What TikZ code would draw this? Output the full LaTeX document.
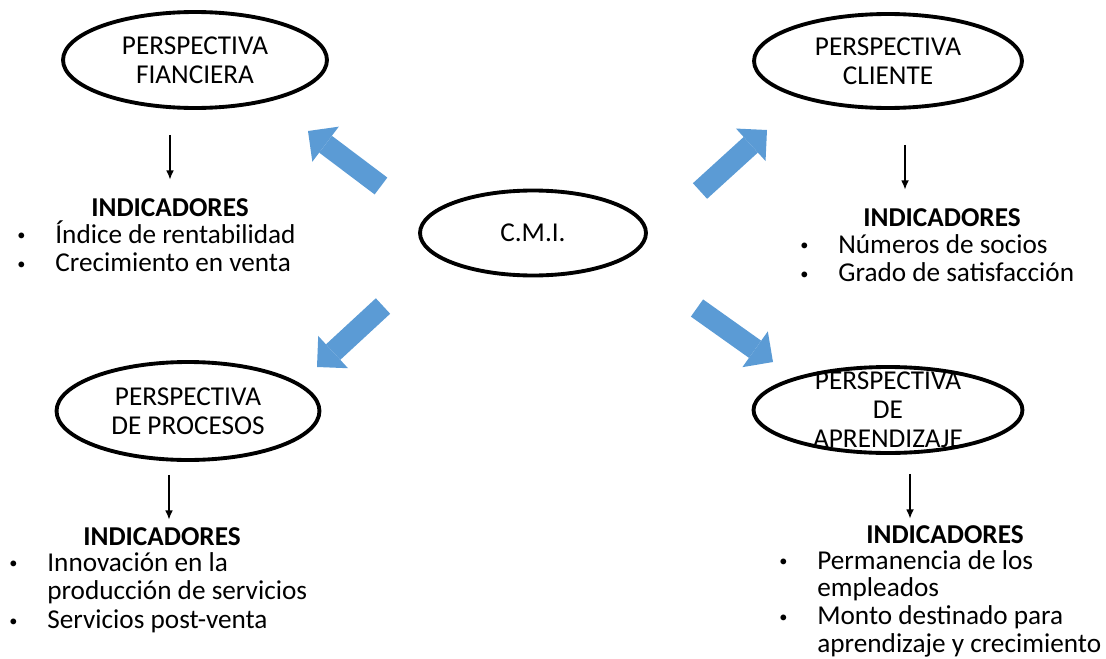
\documentclass[tikz,border=0pt]{standalone}
\usepackage{fontspec}
\setmainfont{Carlito}
\usetikzlibrary{shapes.geometric,arrows.meta,positioning,calc}
\definecolor{azulflecha}{HTML}{5B9BD5}
\newcommand{\vin}{\llap{\raisebox{1.2pt}{\scalebox{0.6}{\textbullet}}\hspace{17pt}}}

\begin{document}
\begin{tikzpicture}[x=0.02cm, y=-0.02cm, every node/.style={font=\fontsize{15.5}{16.5}\selectfont},
  persp/.style={ellipse, draw, line width=2.2pt, inner sep=0pt, align=center},
  ind/.style={font=\fontsize{15.5}{16.5}\selectfont\bfseries, inner sep=1pt},
  lista/.style={anchor=base west, inner sep=0pt},
  flecha/.style={-{Latex[length=5.5pt,width=4.5pt]}, line width=1.1pt},
  flechaazul/.style={azulflecha, line width=12pt, -{Triangle[width=25pt,length=12.5pt,line width=0pt]}}]
\useasboundingbox (0,0) rectangle (1106,659);

\node[persp, minimum width=5.28cm, minimum height=1.92cm] (fin) at (195,60) {PERSPECTIVA\\FIANCIERA};
\node[persp, minimum width=5.36cm, minimum height=1.88cm] (cli) at (888,61) {PERSPECTIVA\\CLIENTE};
\node[persp, minimum width=4.52cm, minimum height=1.7cm] (cmi) at (533,233) {C.M.I.};
\node[persp, minimum width=5.26cm, minimum height=1.96cm] (pro) at (188,411) {PERSPECTIVA\\DE PROCESOS};
\node[persp, minimum width=5.38cm, minimum height=1.72cm] (apr) at (888,410) {};
\node[align=center] (apr-t) at (apr) {PERSPECTIVA\\DE\\APRENDIZAJE};

% flechas azules desde el C.M.I.
\coordinate (nw1) at (381,186); \coordinate (nw2) at (308,131);
\coordinate (ne1) at (700,191); \coordinate (ne2) at (767,130);
\coordinate (sw1) at (383,306); \coordinate (sw2) at (317,367);
\coordinate (se1) at (697,308); \coordinate (se2) at (773,362);
\draw[flechaazul] (nw1) -- (nw2);
\draw[flechaazul] (ne1) -- (ne2);
\draw[flechaazul] (sw1) -- (sw2);
\draw[flechaazul] (se1) -- (se2);

% indicadores
\node[ind] (ind1) at (170,208) {INDICADORES};
\node[lista] (li1) at (55,243) {\begin{tabular}[t]{@{}l@{}}\vin Índice de rentabilidad\\ \vin Crecimiento en venta\end{tabular}};
\node[ind] (ind2) at (942,218) {INDICADORES};
\node[lista] (li2) at (838,253) {\begin{tabular}[t]{@{}l@{}}\vin Números de socios\\ \vin Grado de satisfacción\end{tabular}};
\node[ind] (ind3) at (162,537) {INDICADORES};
\node[lista] (li3) at (47,571) {\begin{tabular}[t]{@{}l@{}}\vin Innovación en la\\ producción de servicios\\ \vin Servicios post-venta\end{tabular}};
\node[ind] (ind4) at (945,535) {INDICADORES};
\node[lista, font=\fontsize{15.5}{15.8}\selectfont] (li4) at (817,569) {\begin{tabular}[t]{@{}l@{}}\vin Permanencia de los\\ empleados\\ \vin Monto destinado para\\ aprendizaje y crecimiento\end{tabular}};

\draw[flecha] ($(fin.south)+(-25,25)$) -- ++(0,45);
\draw[flecha] ($(cli.south)+(17,35)$) -- ++(0,45);
\draw[flecha] ($(pro.south)+(-19,13)$) -- ++(0,45);
\draw[flecha] ($(apr.south)+(22,19)$) -- ++(0,45);
\end{tikzpicture}
\end{document}
